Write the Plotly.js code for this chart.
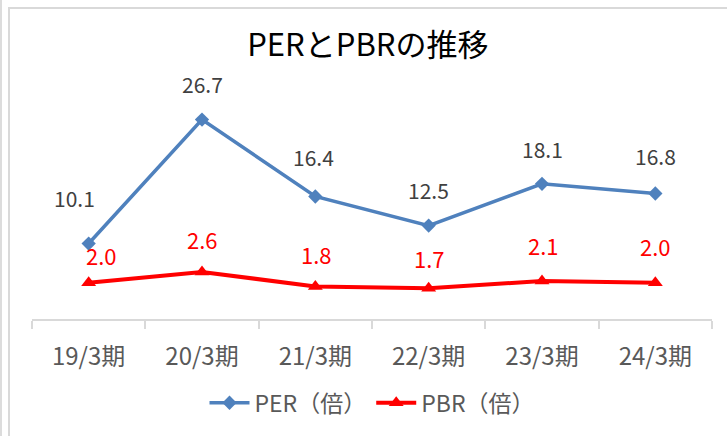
<!DOCTYPE html>
<html>
<head>
<meta charset="utf-8">
<script src="https://cdn.plot.ly/plotly-3.0.1.min.js"></script>
<style>
  body { margin: 0; background: #fff; }
  #wrap { position: relative; width: 727px; height: 436px; overflow: hidden; }
  #chart { position: absolute; left: 0; top: 0; width: 727px; height: 436px; }
  .edge1 { position: absolute; left: 0; top: 0; width: 2px; height: 436px; background: #dcdcdc; pointer-events: none; }
  .frame { position: absolute; left: 8px; top: 7px; width: 800px; height: 500px; border-left: 2px solid #d9d9d9; border-top: 2px solid #d9d9d9; pointer-events: none; }
</style>
</head>
<body>
<div id="wrap">
  <div id="chart"></div>
  <div class="edge1"></div>
  <div class="frame"></div>
</div>
<script>
const categories = ['19/3期', '20/3期', '21/3期', '22/3期', '23/3期', '24/3期'];
const perValues = [10.1, 26.7, 16.4, 12.5, 18.1, 16.8];
const pbrValues = [2.0, 2.6, 1.8, 1.7, 2.1, 2.0];
const perName = 'PER（倍）';
const pbrName = 'PBR（倍）';
const chartTitle = 'PERとPBRの推移';

// label offsets in pixels (layout only)
const perLabelDx = [-14, 0, -2, 0, 0, 0];
const perLabelDy = [46, 36, 39, 36, 35, 37];
const pbrLabelDx = [13, 0, 1, 1, 1, 0];
const pbrLabelDy = [28, 33, 32, 30, 36, 37];

const FONT = '"Noto Sans CJK JP", "Noto Sans", sans-serif';

const traces = [
  {
    x: categories, y: perValues, name: perName, type: 'scatter', mode: 'lines+markers',
    line: { color: '#4f81bd', width: 3.5 },
    marker: { symbol: 'diamond', size: 11, color: '#4f81bd' },
    yaxis: 'y', hoverinfo: 'skip'
  },
  {
    x: categories, y: pbrValues, name: pbrName, type: 'scatter', mode: 'lines+markers',
    line: { color: '#ff0000', width: 4 },
    marker: { symbol: 'triangle-up', size: 13, color: '#ff0000' },
    yaxis: 'y2', hoverinfo: 'skip'
  }
];

const annotations = [];
perValues.forEach((v, i) => annotations.push({
  x: categories[i], y: v, xref: 'x', yref: 'y', text: v.toFixed(1), showarrow: false,
  xshift: perLabelDx[i], yshift: perLabelDy[i],
  font: { family: FONT, size: 21, color: '#404040' }
}));
pbrValues.forEach((v, i) => annotations.push({
  x: categories[i], y: v, xref: 'x', yref: 'y2', text: v.toFixed(1), showarrow: false,
  xshift: pbrLabelDx[i], yshift: pbrLabelDy[i],
  font: { family: FONT, size: 22, color: '#ff0000' }
}));

const layout = {
  width: 727, height: 436,
  margin: { l: 32, r: 15, t: 65, b: 111 },
  paper_bgcolor: 'rgba(0,0,0,0)', plot_bgcolor: 'rgba(0,0,0,0)',
  font: { family: FONT, color: '#595959' },
  title: { text: chartTitle, x: 0.506, xanchor: 'center', y: 0.897, yanchor: 'middle',
           font: { family: FONT, size: 31, color: '#000000' } },
  showlegend: true,
  legend: { orientation: 'h', x: 0.5, xanchor: 'center', y: -0.33, yanchor: 'middle',
            font: { family: FONT, size: 23, color: '#595959' }, itemwidth: 40, tracegroupgap: 0 },
  xaxis: {
    type: 'category', range: [-0.5, 5.5], showgrid: false, zeroline: false,
    showline: true, linecolor: '#d9d9d9', linewidth: 2,
    ticks: 'outside', ticklen: 8, tickcolor: '#d9d9d9', tickwidth: 2, tickson: 'boundaries',
    tickfont: { family: FONT, size: 24, color: '#595959' }, ticklabelstandoff: 15
  },
  yaxis: { range: [0, 34], visible: false, showgrid: false, zeroline: false, fixedrange: true },
  yaxis2: { range: [0, 14.05], visible: false, overlaying: 'y', side: 'right', showgrid: false, zeroline: false },
  annotations: annotations
};

Plotly.newPlot('chart', traces, layout, { displayModeBar: false, staticPlot: true });
</script>
</body>
</html>
